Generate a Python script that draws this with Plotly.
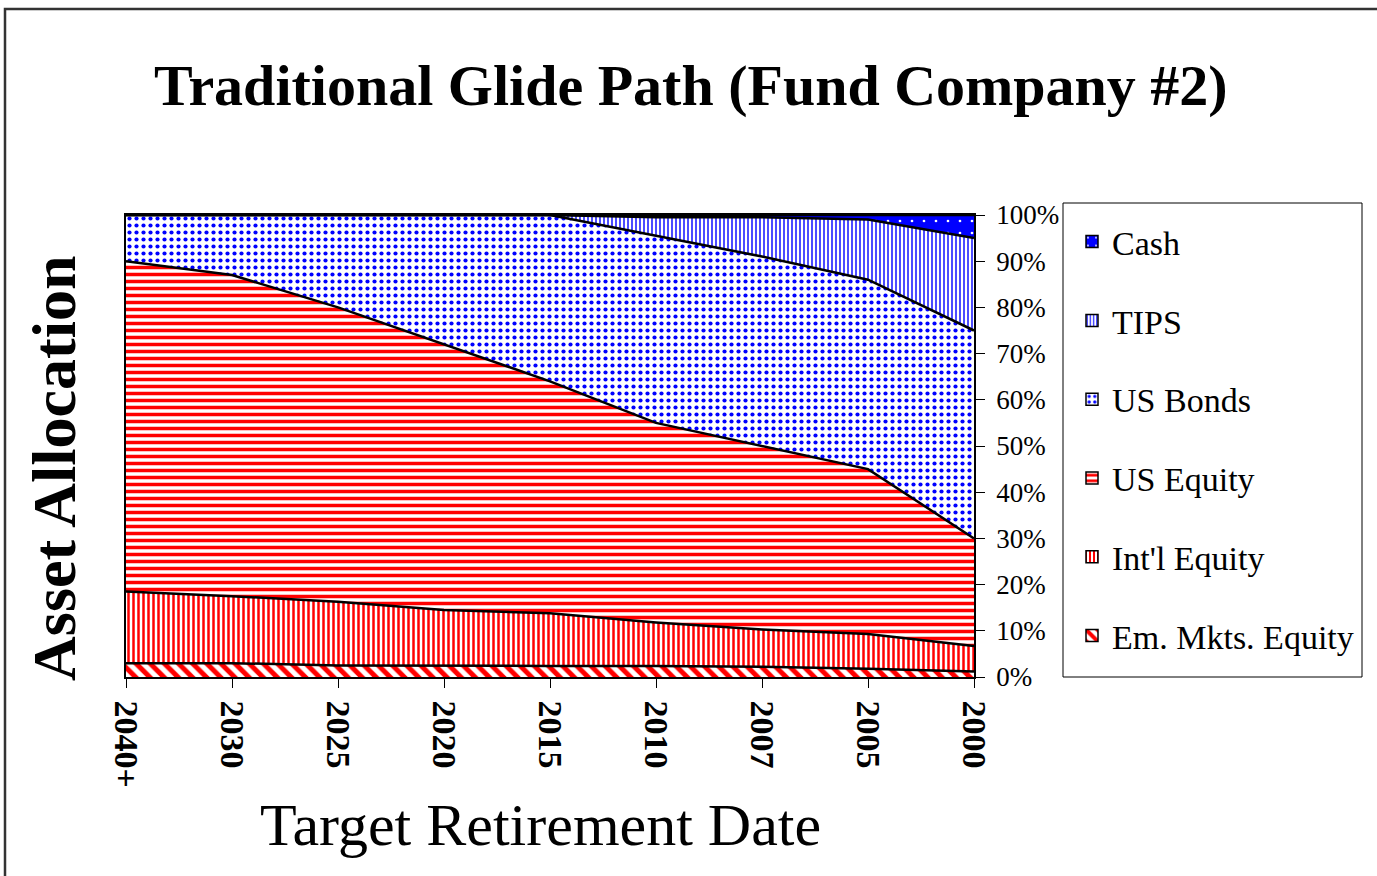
import plotly.graph_objects as go

categories = ["2040+", "2030", "2025", "2020", "2015", "2010", "2007", "2005", "2000"]
em_mkts = [3.0, 3.0, 2.5, 2.4, 2.4, 2.4, 2.2, 1.8, 1.2]
intl_equity = [15.5, 14.5, 13.8, 12.1, 11.4, 9.4, 8.1, 7.5, 5.5]
us_equity = [71.5, 69.5, 63.7, 57.5, 50.2, 43.2, 39.7, 35.7, 23.3]
us_bonds = [10.0, 13.0, 20.0, 28.0, 36.0, 40.5, 41.0, 41.0, 45.0]
tips = [0, 0, 0, 0, 0, 4.0, 8.5, 13.0, 20.0]
cash = [0, 0, 0, 0, 0, 0.5, 0.5, 1.0, 5.0]
y_ticks = [0, 10, 20, 30, 40, 50, 60, 70, 80, 90, 100]

series_names = ["Em. Mkts. Equity", "Int'l Equity", "US Equity", "US Bonds", "TIPS", "Cash"]
series_values = [em_mkts, intl_equity, us_equity, us_bonds, tips, cash]

RED = "#FF0000"
BLUE = "#0000FF"
patterns = [
    dict(shape="\\", fgcolor=RED, bgcolor="white", size=10, solidity=0.5, fillmode="replace"),
    dict(shape="|", fgcolor=RED, bgcolor="white", size=5, solidity=0.5, fillmode="replace"),
    dict(shape="-", fgcolor=RED, bgcolor="white", size=7, solidity=0.5, fillmode="replace"),
    dict(shape=".", fgcolor=BLUE, bgcolor="white", size=7, solidity=0.28, fillmode="replace"),
    dict(shape="|", fgcolor=BLUE, bgcolor="white", size=4, solidity=0.35, fillmode="replace"),
    dict(shape=".", fgcolor="white", bgcolor=BLUE, size=12, solidity=0.04, fillmode="replace"),
]

FONT = "Liberation Serif"

fig = go.Figure()
for name, vals, pat in zip(series_names, series_values, patterns):
    fig.add_trace(go.Scatter(
        x=categories, y=vals, name=name, mode="lines", stackgroup="one",
        line=dict(color="black", width=2.5), fillpattern=pat,
        fillcolor=pat["bgcolor"], showlegend=False, hoverinfo="skip",
    ))

# legend swatches (top to bottom: Cash ... Em. Mkts. Equity)
for name, pat in reversed(list(zip(series_names, patterns))):
    fig.add_trace(go.Bar(
        x=[categories[0]], y=[None], name=name, legendgroup=name,
        marker=dict(color=pat["bgcolor"], pattern=pat, line=dict(color="black", width=1.5)),
        showlegend=True,
    ))

W, H = 1377, 876
L, R, T, B = 126, 403, 215, 199
pw, ph = W - L - R, H - T - B

def px(x):
    return (x - L) / pw

def py(y):
    return (H - B - y) / ph

fig.update_layout(
    width=W, height=H, autosize=False,
    margin=dict(l=L, r=R, t=T, b=B, pad=0),
    paper_bgcolor="white", plot_bgcolor="white",
    font=dict(family=FONT, color="black"),
    showlegend=True,
    legend=dict(
        x=px(1072), y=py(213), xanchor="left", yanchor="top",
        traceorder="grouped", tracegroupgap=31.6, maxheight=800,
        font=dict(family=FONT, size=34, color="black"),
        bgcolor="rgba(0,0,0,0)", borderwidth=0,
    ),
    xaxis=dict(
        type="category", range=[0, 8], showline=True, linecolor="black", linewidth=1.5,
        mirror=True, ticks="outside", ticklen=9, tickcolor="black", tickwidth=1,
        tickangle=90, tickfont=dict(family=FONT, size=34, weight="bold"),
        showgrid=False, zeroline=False, ticklabelstandoff=6,
    ),
    yaxis=dict(
        range=[0, 100], side="right", tickmode="array", tickvals=y_ticks,
        ticktext=[f"{v}%" for v in y_ticks],
        showline=True, linecolor="black", linewidth=1.5, mirror=True,
        ticks="outside", ticklen=9, tickcolor="black", tickwidth=1,
        tickfont=dict(family=FONT, size=27), showgrid=False, zeroline=False,
        ticklabelstandoff=6,
    ),
    shapes=[
        dict(type="rect", xref="paper", yref="paper", x0=px(1063), x1=px(1362), y0=py(677), y1=py(203),
             line=dict(color="black", width=1), fillcolor="rgba(0,0,0,0)", layer="above"),
        dict(type="rect", xref="paper", yref="paper", x0=px(5), x1=px(1400), y0=py(900), y1=py(9),
             line=dict(color="#333333", width=2.5), fillcolor="rgba(0,0,0,0)", layer="above"),
    ],
    annotations=[
        dict(text="Traditional Glide Path (Fund Company #2)", xref="paper", yref="paper",
             x=px(691), y=py(85), xanchor="center", yanchor="middle", showarrow=False,
             font=dict(family=FONT, size=58, weight="bold")),
        dict(text="Asset Allocation", xref="paper", yref="paper", textangle=-90,
             x=px(54), y=py(469), xanchor="center", yanchor="middle", showarrow=False,
             font=dict(family=FONT, size=62, weight="bold")),
        dict(text="Target Retirement Date", xref="paper", yref="paper",
             x=px(540), y=py(825), xanchor="center", yanchor="middle", showarrow=False,
             font=dict(family=FONT, size=60)),
    ],
)

fig.write_html(
    "out.html",
    config={"displayModeBar": False},
    post_script="document.body.style.margin='0px';document.body.style.overflow='hidden';",
)
